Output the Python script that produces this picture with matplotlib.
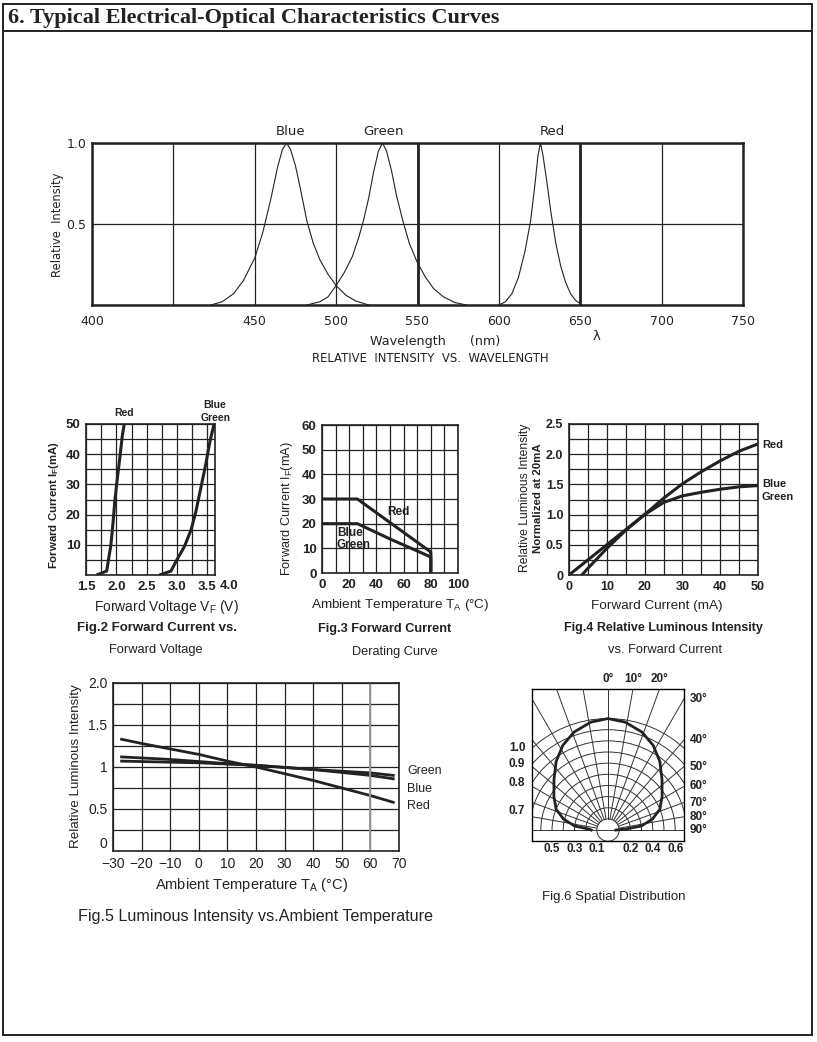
import numpy as np
import matplotlib
matplotlib.use("Agg")
import matplotlib.pyplot as plt
from matplotlib.patches import Rectangle, Circle, Arc
from matplotlib.lines import Line2D

W, H = 817, 1042
INK = "#222222"
ROUND = ["DejaVu Sans"]                      # spectrum block text
NARROW = ["Liberation Sans", "DejaVu Sans"]  # small charts text

# ─── Data ────────────────────────────────────────────────────────────────────

# Fig.1 relative intensity vs wavelength
WL_TICKS  = [350, 400, 450, 500, 550, 600, 650, 700, 750]
WL_LABELS = ["400", "", "450", "500", "550", "600", "650", "700", "750"]

BLUE_NM = [423, 430, 437, 443, 450, 455, 460, 464, 467, 469.5, 472, 475, 478,
           482, 486, 490, 495, 500, 506, 512, 520]
BLUE_I  = [0.0, 0.02, 0.07, 0.15, 0.29, 0.45, 0.66, 0.85, 0.96, 1.0, 0.96, 0.86,
           0.72, 0.52, 0.38, 0.28, 0.19, 0.12, 0.06, 0.025, 0.0]

GREEN_NM = [482, 490, 495, 500, 505, 510, 514, 517, 520, 523, 526, 528.5, 531,
            534, 537, 541, 545, 550, 555, 560, 566, 573, 580]
GREEN_I  = [0.0, 0.02, 0.05, 0.12, 0.20, 0.30, 0.42, 0.53, 0.66, 0.82, 0.95, 1.0,
            0.95, 0.83, 0.68, 0.52, 0.38, 0.26, 0.17, 0.10, 0.05, 0.015, 0.0]

RED_NM = [600, 604, 608, 612, 616, 619.5, 622, 624, 625.5, 627, 629.5, 632, 635,
          638, 641, 644, 647, 651]
RED_I  = [0.0, 0.02, 0.07, 0.17, 0.33, 0.52, 0.73, 0.92, 1.0, 0.93, 0.76, 0.57,
          0.38, 0.24, 0.14, 0.07, 0.03, 0.0]

# Fig.2 forward current vs forward voltage
RED_VF = [1.675, 1.84, 1.865, 1.91, 1.947, 1.974, 2.01, 2.056, 2.10, 2.13]
RED_IF = [0, 1.3, 4.4, 9.9, 17.7, 24.3, 30.9, 38.6, 46.4, 50]
BG_VF  = [2.71, 2.90, 2.98, 3.12, 3.23, 3.31, 3.39, 3.47, 3.54, 3.61]
BG_IF  = [0, 1.3, 4.4, 9.4, 14.9, 21.0, 28.7, 36.4, 44.1, 50]

# Fig.3 derating curve
RED_TA = [0, 26, 80, 80]
RED_DR = [30, 30, 8.5, 0]
BG_TA  = [0, 26, 50, 80, 80]
BG_DR  = [20, 20, 13.8, 6.5, 0]

# Fig.4 relative luminous intensity vs forward current
RED_I4 = [3.4, 5, 10, 15, 20, 25, 30, 35, 40, 45, 50]
RED_L4 = [0, 0.11, 0.44, 0.74, 1.0, 1.27, 1.51, 1.71, 1.89, 2.05, 2.17]
BG_I4  = [0, 5, 10, 15, 20, 25, 30, 35, 40, 45, 50]
BG_L4  = [0, 0.25, 0.5, 0.75, 1.0, 1.2, 1.31, 1.37, 1.42, 1.46, 1.48]

# Fig.5 luminous intensity vs ambient temperature
RED_T5 = [-27, -20, 0, 10, 20, 30, 40, 50, 60, 68]
RED_L5 = [1.33, 1.28, 1.15, 1.07, 1.0, 0.92, 0.84, 0.75, 0.66, 0.58]
BLUE_T5 = [-27, -10, 10, 20, 40, 60, 68]
BLUE_L5 = [1.12, 1.09, 1.04, 1.02, 0.97, 0.90, 0.86]
GREEN_T5 = [-27, 0, 20, 40, 60, 68]
GREEN_L5 = [1.07, 1.05, 1.02, 0.97, 0.93, 0.90]

# Fig.6 spatial distribution
ANGLES = [-90, -87, -83, -76, -68, -58, -47, -37, -28, -19, -9, 0,
          9, 19, 28, 37, 47, 58, 68, 76, 83, 87, 90]
INTENS = [0.15, 0.17, 0.30, 0.41, 0.50, 0.57, 0.66, 0.77, 0.86, 0.93, 0.98, 1.0,
          0.98, 0.93, 0.86, 0.77, 0.66, 0.57, 0.50, 0.41, 0.30, 0.15, 0.07]
RINGS = [0.1, 0.2, 0.3, 0.4, 0.5, 0.6, 0.7, 0.8, 0.9, 1.0]
RAYS = [-80, -70, -60, -50, -40, -30, -20, -10, 0, 10, 20, 30, 40, 50, 60, 70, 80]
LEFT_RINGS = [1.0, 0.9, 0.8, 0.7]
TOP_RAYS = [0, 10, 20]
RIGHT_RAYS = [30, 40, 50, 60, 70, 80, 90]
BOTTOM_VALS = [-0.5, -0.3, -0.1, 0.2, 0.4, 0.6]


# ─── Helpers ─────────────────────────────────────────────────────────────────

def px_axes(fig, x0, y0, x1, y1):
    """Axes placed by pixel box of the reference picture."""
    return fig.add_axes([x0 / W, 1 - y1 / H, (x1 - x0) / W, (y1 - y0) / H])


def ftext(fig, x, y, s, **kw):
    kw.setdefault("ha", "center")
    kw.setdefault("va", "center")
    kw.setdefault("family", NARROW)
    fig.text(x / W, 1 - y / H, s, **kw)


def grid_axes(ax, xt, xl, yt, yl, size=9.5, weight="bold", lw=0.9,
              family=NARROW):
    ax.set_xticks(xt)
    ax.set_xticklabels(xl)
    ax.set_yticks(yt)
    ax.set_yticklabels(yl)
    ax.set_xlim(xt[0], xt[-1])
    ax.set_ylim(yt[0], yt[-1])
    ax.grid(True, color=INK, lw=lw)
    ax.set_axisbelow(True)
    ax.tick_params(length=0, labelsize=size, pad=4)
    for lab in ax.get_xticklabels() + ax.get_yticklabels():
        lab.set_fontweight(weight)
        lab.set_fontfamily(family)
    for sp in ax.spines.values():
        sp.set_linewidth(1.2)
        sp.set_color(INK)


# ─── Figures ─────────────────────────────────────────────────────────────────

def spectrum(fig):
    ax = px_axes(fig, 92, 143, 743, 305)
    for nm, inten in [(BLUE_NM, BLUE_I), (GREEN_NM, GREEN_I), (RED_NM, RED_I)]:
        ax.plot(nm, inten, color=INK, lw=0.8)
    grid_axes(ax, WL_TICKS, WL_LABELS, [0, 0.5, 1.0], ["", "0.5", "1.0"],
              size=9, weight="normal", lw=0.9, family=ROUND)
    ax.tick_params(axis="x", pad=7)
    ax.axvline(550, color=INK, lw=2)
    ax.axvline(650, color=INK, lw=2)
    for sp in ax.spines.values():
        sp.set_linewidth(1.8)
    for name, x in [("Blue", 471.7), ("Green", 529.4), ("Red", 633)]:
        ax.text(x, 1.074, name, ha="center", va="center", fontsize=9.5,
                family=ROUND)
    ftext(fig, 57, 225, "Relative  Intensity", rotation=90, fontsize=8.3,
          family=ROUND)
    ftext(fig, 435, 341, "Wavelength      (nm)", fontsize=9.2, family=ROUND)
    ftext(fig, 597, 337, "λ", fontsize=9.5, family=ROUND)
    ftext(fig, 430, 359, "RELATIVE  INTENSITY  VS.  WAVELENGTH", fontsize=8.4,
          family=ROUND)


def forward_voltage(fig):
    ax = px_axes(fig, 86, 424, 215, 575)
    ax.plot(RED_VF, RED_IF, color=INK, lw=2.2, solid_capstyle="butt")
    ax.plot(BG_VF, BG_IF, color=INK, lw=2.2, solid_capstyle="butt")
    xt = [1.5, 1.75, 2.0, 2.25, 2.5, 2.75, 3.0, 3.25, 3.5, 3.625]
    xl = ["1.5", "", "2.0", "", "2.5", "", "3.0", "", "3.5", ""]
    yt = list(range(0, 55, 5))
    yl = [str(v) if v % 10 == 0 and v > 0 else "" for v in yt]
    grid_axes(ax, xt, xl, yt, yl)
    ax.text(3.86, -1.5, "4.0", ha="center", va="top", fontsize=9.5,
            fontweight="bold", family=NARROW)
    lab = dict(ha="center", va="center", fontsize=7.5, fontweight="bold",
               family=NARROW)
    ax.text(2.13, 53.6, "Red", **lab)
    ax.text(3.62, 56.3, "Blue", **lab)
    ax.text(3.63, 52, "Green", **lab)
    ftext(fig, 54, 505, r"Forward Current I$_\mathregular{F}$(mA)",
          rotation=90, fontsize=8.2, fontweight="bold")
    ftext(fig, 166, 607, r"Forward Voltage V$_\mathregular{F}$ (V)",
          fontsize=10)
    ftext(fig, 157, 628, "Fig.2 Forward Current vs.", fontsize=9.5,
          fontweight="bold")
    ftext(fig, 156, 650, "Forward Voltage", fontsize=9.3)


def derating(fig):
    ax = px_axes(fig, 322, 425, 458, 573)
    ax.plot(RED_TA, RED_DR, color=INK, lw=2.2)
    ax.plot(BG_TA, BG_DR, color=INK, lw=2.2)
    xt = list(range(0, 110, 10))
    xl = [str(v) if v % 20 == 0 else "" for v in xt]
    yt = list(range(0, 70, 10))
    grid_axes(ax, xt, xl, yt, [str(v) for v in yt])
    lab = dict(va="center", fontsize=8.5, fontweight="bold", family=NARROW)
    ax.text(56, 24.8, "Red", ha="center", **lab)
    ax.text(11, 16.3, "Blue", ha="left", **lab)
    ax.text(11, 11.5, "Green", ha="left", **lab)
    ftext(fig, 287, 509, r"Forward Current I$_\mathregular{F}$(mA)",
          rotation=90, fontsize=9.2)
    ftext(fig, 400, 605, r"Ambient Temperature T$_\mathregular{A}$ (°C)",
          fontsize=9.7)
    ftext(fig, 385, 629, "Fig.3 Forward Current", fontsize=9.2,
          fontweight="bold")
    ftext(fig, 395, 652, "Derating Curve", fontsize=9.2)


def luminous_current(fig):
    ax = px_axes(fig, 569, 424, 758, 575)
    ax.plot(RED_I4, RED_L4, color=INK, lw=2.2)
    ax.plot(BG_I4, BG_L4, color=INK, lw=2.2)
    xt = list(range(0, 55, 5))
    xl = [str(v) if v % 10 == 0 else "" for v in xt]
    yt = [0, 0.25, 0.5, 0.75, 1.0, 1.25, 1.5, 1.75, 2.0, 2.25, 2.5]
    yl = ["0", "", "0.5", "", "1.0", "", "1.5", "", "2.0", "", "2.5"]
    grid_axes(ax, xt, xl, yt, yl, size=9)
    lab = dict(ha="left", va="center", fontsize=8, fontweight="bold",
               family=NARROW)
    ax.text(51, 2.16, "Red", **lab)
    ax.text(51, 1.51, "Blue", **lab)
    ax.text(51, 1.29, "Green", **lab)
    ftext(fig, 525, 498, "Relative Luminous Intensity", rotation=90,
          fontsize=8.7)
    ftext(fig, 538, 498, "Normalized at 20mA", rotation=90, fontsize=8.2,
          fontweight="bold")
    ftext(fig, 657, 606, "Forward Current (mA)", fontsize=9.7)
    ftext(fig, 663, 628, "Fig.4 Relative Luminous Intensity", fontsize=9,
          fontweight="bold")
    ftext(fig, 665, 650, "vs. Forward Current", fontsize=9.3)


def luminous_temp(fig):
    ax = px_axes(fig, 113, 683, 399, 851)
    ax.plot(RED_T5, RED_L5, color=INK, lw=2)
    ax.plot(BLUE_T5, BLUE_L5, color=INK, lw=2)
    ax.plot(GREEN_T5, GREEN_L5, color=INK, lw=2)
    xt = list(range(-30, 80, 10))
    xl = [str(v).replace("-", "\u2212") for v in xt]
    yt = [0, 0.25, 0.5, 0.75, 1.0, 1.25, 1.5, 1.75, 2.0]
    yl = ["0", "", "0.5", "", "1", "", "1.5", "", "2.0"]
    grid_axes(ax, xt, xl, yt, yl, size=10, weight="normal")
    ax.get_yticklabels()[0].set_va("bottom")
    ax.axvline(60, color="#9a9a9a", lw=1.3)
    lab = dict(ha="left", va="center", fontsize=9, family=NARROW)
    ax.text(72.8, 0.952, "Green", **lab)
    ax.text(72.8, 0.738, "Blue", **lab)
    ax.text(72.8, 0.536, "Red", **lab)
    ftext(fig, 76, 766, "Relative Luminous Intensity", rotation=90,
          fontsize=9.6)
    ftext(fig, 252, 885, r"Ambient Temperature T$_\mathregular{A}$ (°C)",
          fontsize=10.5)
    ftext(fig, 255, 916, "Fig.5 Luminous Intensity vs.Ambient Temperature",
          fontsize=11.6)


def spatial(fig):
    ax = px_axes(fig, 532, 689, 684, 841)
    xl, xr, yb, yt = -0.679, 0.679, -0.098, 1.265
    ax.set_xlim(xl, xr)
    ax.set_ylim(yb, yt)
    ax.set_xticks([])
    ax.set_yticks([])
    grid_kw = dict(color="#333333", lw=0.7)
    for r in RINGS[1:]:
        ax.add_patch(Arc((0, 0), 2 * r, 2 * r, theta1=0, theta2=180, **grid_kw))
    ax.add_patch(Circle((0, 0), RINGS[0], fill=False, **grid_kw))
    r0 = RINGS[0]
    for a in RAYS:
        t = np.radians(a)
        ax.plot([r0 * np.sin(t), 3 * np.sin(t)], [r0 * np.cos(t), 3 * np.cos(t)],
                **grid_kw)
    ax.axhline(0, **grid_kw)
    t = np.radians(ANGLES)
    inten = np.array(INTENS)
    ax.plot(inten * np.sin(t), inten * np.cos(t), color=INK, lw=2)
    for sp in ax.spines.values():
        sp.set_linewidth(1.0)
    lab_kw = dict(fontsize=8.5, fontweight="bold", clip_on=False, family=NARROW)
    for a in TOP_RAYS:
        ax.text(yt * np.tan(np.radians(a)), yt + 0.09, f"{a}°", ha="center",
                va="center", **lab_kw)
    for a in RIGHT_RAYS:
        ax.text(xr + 0.05, xr / np.tan(np.radians(a)), f"{a}°", ha="left",
                va="center", **lab_kw)
    for r in LEFT_RINGS:
        ax.text(xl - 0.06, np.sqrt(r ** 2 - xl ** 2), f"{r:.1f}", ha="right",
                va="center", **lab_kw)
    for v in BOTTOM_VALS:
        ax.text(v, yb - 0.075, f"{abs(v):.1f}", ha="center", va="center",
                **lab_kw)
    ftext(fig, 614, 897, "Fig.6 Spatial Distribution", fontsize=9.5)


def frame(fig):
    fig.add_artist(Rectangle((3 / W, 1 - 1035 / H), 809 / W, 1031 / H,
                             transform=fig.transFigure, fill=False,
                             lw=1.4, color=INK))
    fig.add_artist(Line2D([3 / W, 812 / W], [1 - 31 / H, 1 - 31 / H],
                          transform=fig.transFigure, lw=1.4, color=INK))
    ftext(fig, 8, 18, "6. Typical Electrical-Optical Characteristics Curves",
          ha="left", family=["Liberation Serif", "DejaVu Serif"],
          fontweight="bold", fontsize=16)


if __name__ == "__main__":
    plt.rcParams["font.family"] = NARROW
    plt.rcParams["text.color"] = INK
    plt.rcParams["xtick.color"] = INK
    plt.rcParams["ytick.color"] = INK

    fig = plt.figure(figsize=(W / 100, H / 100), dpi=100)
    frame(fig)
    spectrum(fig)
    forward_voltage(fig)
    derating(fig)
    luminous_current(fig)
    luminous_temp(fig)
    spatial(fig)
    fig.savefig("out.png", dpi=100)
